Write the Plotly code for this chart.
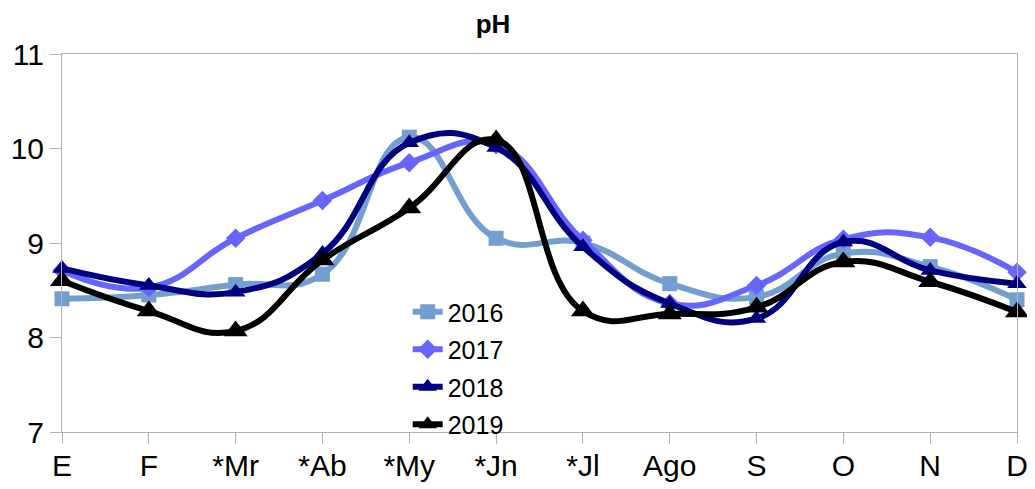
import plotly.graph_objects as go

months = ["E", "F", "*Mr", "*Ab", "*My", "*Jn", "*Jl", "Ago", "S", "O", "N", "D"]
ph_2016 = [8.41, 8.45, 8.56, 8.67, 10.12, 9.05, 9.00, 8.57, 8.43, 8.89, 8.75, 8.40]
ph_2017 = [8.71, 8.53, 9.05, 9.45, 9.85, 10.04, 9.03, 8.36, 8.55, 9.04, 9.06, 8.69]
ph_2018 = [8.73, 8.55, 8.48, 8.89, 10.06, 10.01, 8.96, 8.36, 8.20, 9.01, 8.71, 8.57]
ph_2019 = [8.60, 8.28, 8.07, 8.82, 9.37, 10.09, 8.28, 8.25, 8.32, 8.80, 8.59, 8.27]

series = [
    ("2016", ph_2016, "#729fcf", "square", 15),
    ("2017", ph_2017, "#6666ff", "diamond", 15),
    ("2018", ph_2018, "#000080", "triangle-up", 17),
    ("2019", ph_2019, "#000000", "triangle-up", 21),
]

x = list(range(len(months)))
fig = go.Figure()
for name, vals, color, sym, size in series:
    fig.add_trace(go.Scatter(
        x=x, y=vals, name=name, legendgroup=name, mode="lines+markers",
        line=dict(color=color, width=6, shape="spline", smoothing=1.3),
        marker=dict(symbol=sym, size=size, color=color),
        cliponaxis=False,
    ))

fig.update_layout(
    width=1027, height=481,
    margin=dict(l=54, r=18, t=46, b=57),
    paper_bgcolor="white", plot_bgcolor="white",
    font=dict(family="Liberation Sans", size=30, color="black"),
    title=dict(text="<b>pH</b>", x=(493 - 8) / 1027, xanchor="center", y=1 - (24 - 8) / 481, yanchor="middle",
               font=dict(size=26, family="Liberation Sans")),
    showlegend=True,
    legend=dict(x=0.362, y=0.378, xanchor="left", yanchor="top", bgcolor="rgba(0,0,0,0)",
                font=dict(size=25), tracegroupgap=2, traceorder="grouped"),
)
fig.update_xaxes(
    range=[0, 11], tickvals=x, ticktext=months, showgrid=False, zeroline=False,
    showline=True, linecolor="#b3b3b3", linewidth=1, mirror=True, automargin=False,
    ticks="outside", ticklen=11, tickcolor="#b3b3b3", tickfont=dict(size=30),
    ticklabeloverflow="allow", ticklabelstandoff=-4,
)
fig.update_yaxes(
    range=[7, 11], tickvals=[7, 8, 9, 10, 11], showgrid=False, zeroline=False,
    showline=True, linecolor="#b3b3b3", linewidth=1, mirror=True, automargin=False,
    ticks="outside", ticklen=11, tickcolor="#b3b3b3", tickfont=dict(size=30),
    ticklabeloverflow="allow",
)
fig.write_html("out.html")
